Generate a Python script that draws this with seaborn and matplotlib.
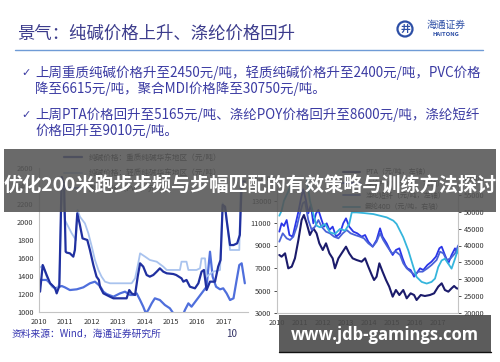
import matplotlib
matplotlib.use('Agg')
import matplotlib.pyplot as plt
import seaborn as sns
import pandas as pd
from matplotlib.patches import Rectangle, Ellipse
from matplotlib.lines import Line2D

W, H = 500, 362

title = '景气：纯碱价格上升、涤纶价格回升'
bullets = [
    '上周重质纯碱价格升至2450元/吨，轻质纯碱价格升至2400元/吨，PVC价格',
    '降至6615元/吨，聚合MDI价格降至30750元/吨。',
    '上周PTA价格回升至5165元/吨、涤纶POY价格回升至8600元/吨，涤纶短纤',
    '价格回升至9010元/吨。',
]
banner = '优化200米跑步步频与步幅匹配的有效策略与训练方法探讨'
source = '资料来源：Wind，海通证券研究所'
page_no = '10'
watermark = 'www.jdb-gamings.com'

years = [2010, 2011, 2012, 2013, 2014, 2015, 2016, 2017]
left_ticks = [1000, 1200, 1400, 1600, 1800, 2000, 2200, 2400, 2600]
fiber_ticks = [3000, 5000, 7000, 9000, 11000, 13000, 15000]
spandex_ticks = [20000, 25000, 30000, 35000, 40000, 45000, 50000, 55000, 60000]

left_labels = ['纯碱价格：重质纯碱华东地区（元/吨）', '纯碱价格：轻质纯碱华东地区（元/吨）', '聚氯乙烯（PVC，元/吨）']
right_labels = ['PTA（元/吨，左轴）', '涤纶POY（元/吨，左轴）', '涤纶短纤（元/吨，左轴）', '氨纶40D（元/吨，右轴）']

# (year, price)
soda_heavy = [(2010.04, 1226), (2010.14, 1522), (2010.29, 1411), (2010.42, 1319), (2010.61, 1263),
              (2010.67, 1207), (2010.77, 1289), (2010.86, 2500), (2010.95, 2420), (2011.01, 1670),
              (2011.05, 1660), (2011.17, 1652), (2011.30, 1615), (2011.36, 1689), (2011.45, 2096),
              (2011.55, 1967), (2011.65, 1818), (2011.83, 1800), (2011.93, 1689), (2012.06, 1522),
              (2012.18, 1393), (2012.27, 1356), (2012.31, 1281), (2012.44, 1207), (2012.56, 1189),
              (2012.69, 1170), (2012.82, 1152), (2013.07, 1152), (2013.32, 1152), (2013.42, 1244),
              (2013.51, 1207), (2013.64, 1189), (2013.74, 1393), (2013.83, 1541), (2013.95, 1504),
              (2014.08, 1411), (2014.20, 1393), (2014.33, 1411), (2014.46, 1448), (2014.58, 1485),
              (2014.71, 1448), (2014.84, 1430), (2015.09, 1422), (2015.20, 1411), (2015.40, 1374),
              (2015.47, 1337), (2015.59, 1356), (2015.72, 1281), (2015.91, 1263), (2016.04, 1319),
              (2016.16, 1448), (2016.25, 1467), (2016.35, 1244), (2016.48, 1337), (2016.67, 1337),
              (2016.79, 1504), (2016.88, 1578), (2016.96, 2189), (2017.05, 2170), (2017.11, 2022),
              (2017.24, 1744), (2017.37, 1744), (2017.51, 1763), (2017.61, 1856), (2017.68, 2450),
              (2017.80, 2450)]
soda_light = [(2010.04, 1496), (2010.16, 1515), (2010.29, 1393), (2010.48, 1281), (2010.67, 1244),
              (2010.77, 1319), (2010.87, 2450), (2010.98, 2022), (2011.11, 1948), (2011.24, 1874),
              (2011.40, 1800), (2011.46, 2133), (2011.55, 2059), (2011.74, 1985), (2011.87, 1874),
              (2012.00, 1726), (2012.12, 1578), (2012.25, 1467), (2012.37, 1393), (2012.50, 1337),
              (2012.69, 1319), (2013.51, 1319), (2013.64, 1374), (2013.76, 1541), (2013.83, 1652),
              (2014.02, 1615), (2014.20, 1578), (2014.46, 1559), (2014.71, 1504), (2014.84, 1467),
              (2015.34, 1467), (2015.40, 1559), (2015.59, 1559), (2015.66, 1467), (2015.97, 1467),
              (2016.10, 1485), (2016.16, 1596), (2016.29, 1596), (2016.35, 1393), (2016.60, 1448),
              (2016.86, 1467), (2016.96, 2207), (2017.08, 2115), (2017.24, 1689), (2017.59, 1689),
              (2017.64, 2400), (2017.80, 2400)]
pvc = [(2010.04, 1356), (2010.29, 1356), (2010.42, 1319), (2010.61, 1263), (2010.73, 1274),
       (2010.86, 1289), (2010.98, 1274), (2011.17, 1244), (2011.43, 1252), (2011.68, 1274),
       (2011.93, 1319), (2012.12, 1337), (2012.31, 1289), (2012.44, 1226), (2012.56, 1200),
       (2012.82, 1170), (2013.07, 1207), (2013.26, 1226), (2013.45, 1189), (2013.57, 1189),
       (2013.70, 1207), (2013.83, 1133), (2013.95, 1059), (2014.05, 985), (2014.14, 1022),
       (2014.27, 1096), (2014.39, 1152), (2014.58, 1133), (2014.77, 1078), (2014.96, 1041),
       (2015.09, 985), (2015.21, 930), (2015.40, 930), (2015.53, 1022), (2015.66, 1096),
       (2015.78, 1059), (2015.97, 1133), (2016.16, 1207), (2016.35, 1281), (2016.48, 1670),
       (2016.58, 1393), (2016.71, 1281), (2016.86, 1252), (2016.98, 1263), (2017.11, 1207),
       (2017.24, 1133), (2017.37, 1152), (2017.49, 1356), (2017.59, 1522), (2017.68, 1541),
       (2017.80, 1319)]

pta = [(2010.10, 8156), (2010.20, 8007), (2010.35, 8304), (2010.49, 6970), (2010.64, 7119),
       (2010.78, 7859), (2010.93, 9489), (2011.07, 11267), (2011.17, 11711), (2011.29, 10970),
       (2011.43, 9933), (2011.58, 10526), (2011.72, 10082), (2011.84, 9193), (2011.99, 8600),
       (2012.13, 9193), (2012.28, 8304), (2012.42, 7859), (2012.52, 6970), (2012.67, 7859),
       (2012.81, 8304), (2013.00, 8896), (2013.14, 8304), (2013.29, 7859), (2013.46, 7711),
       (2013.68, 7563), (2013.83, 7859), (2013.97, 7119), (2014.12, 6378), (2014.22, 5933),
       (2014.33, 6230), (2014.45, 7415), (2014.59, 6674), (2014.74, 5933), (2014.88, 5341),
       (2015.03, 4452), (2015.17, 5044), (2015.32, 4600), (2015.49, 5044), (2015.64, 4304),
       (2015.81, 4748), (2015.96, 4600), (2016.07, 4156), (2016.25, 4600), (2016.43, 4511),
       (2016.65, 4600), (2016.83, 4748), (2017.01, 5341), (2017.16, 5637), (2017.30, 5044),
       (2017.45, 4896), (2017.59, 5193), (2017.70, 5400), (2017.81, 5193), (2017.88, 5165)]
poy = [(2010.10, 10230), (2010.20, 10970), (2010.30, 10733), (2010.42, 11267), (2010.54, 9933),
       (2010.68, 9785), (2010.78, 10674), (2010.93, 12007), (2011.03, 13044), (2011.14, 14000),
       (2011.26, 13000), (2011.36, 11859), (2011.47, 12600), (2011.58, 10970), (2011.70, 11859),
       (2011.80, 12156), (2011.94, 11267), (2012.04, 10674), (2012.16, 10970), (2012.28, 10378),
       (2012.42, 10674), (2012.57, 9785), (2012.74, 10082), (2012.88, 10970), (2013.00, 11415),
       (2013.14, 10674), (2013.32, 10230), (2013.49, 10082), (2013.68, 9785), (2013.83, 9933),
       (2013.97, 9341), (2014.16, 8896), (2014.33, 9489), (2014.48, 10526), (2014.59, 9785),
       (2014.77, 9193), (2014.91, 8600), (2015.03, 8156), (2015.17, 8600), (2015.32, 8748),
       (2015.46, 7859), (2015.57, 7267), (2015.67, 6970), (2015.81, 6822), (2015.96, 6230),
       (2016.07, 6526), (2016.22, 6970), (2016.36, 6822), (2016.54, 7267), (2016.72, 7563),
       (2016.91, 8007), (2017.06, 8748), (2017.16, 8896), (2017.30, 8156), (2017.45, 7415),
       (2017.59, 8156), (2017.74, 8748), (2017.81, 8304), (2017.88, 8600)]
psf = [(2010.10, 9341), (2010.25, 10082), (2010.42, 9637), (2010.57, 9489), (2010.71, 9785),
       (2010.86, 10674), (2011.00, 11859), (2011.12, 12748), (2011.22, 12900), (2011.36, 11267),
       (2011.51, 10378), (2011.65, 10674), (2011.80, 11267), (2011.94, 10674), (2012.13, 10230),
       (2012.30, 10082), (2012.48, 9785), (2012.67, 9637), (2012.86, 10082), (2013.03, 10378),
       (2013.20, 10082), (2013.39, 9933), (2013.61, 9785), (2013.78, 9637), (2013.97, 9193),
       (2014.16, 8896), (2014.33, 9341), (2014.48, 10082), (2014.62, 9489), (2014.80, 8896),
       (2014.99, 8304), (2015.17, 8452), (2015.35, 8156), (2015.49, 7415), (2015.64, 6970),
       (2015.81, 6674), (2016.00, 6378), (2016.14, 6674), (2016.33, 6674), (2016.54, 6970),
       (2016.72, 7267), (2016.94, 7711), (2017.09, 8452), (2017.23, 8304), (2017.38, 7711),
       (2017.55, 7859), (2017.74, 8304), (2017.88, 9010)]
spandex = [(2010.10, 48824), (2010.20, 50294), (2010.30, 53235), (2010.49, 56000), (2010.71, 60000),
           (2011.00, 62000), (2011.29, 60000), (2011.43, 53235), (2011.58, 49314), (2011.72, 45882),
           (2011.87, 45392), (2012.09, 46373), (2012.30, 43922), (2012.52, 43431), (2012.74, 44902),
           (2012.96, 44412), (2013.14, 46373), (2013.25, 49804), (2013.46, 49800), (2013.80, 49600),
           (2014.19, 49314), (2014.77, 48333), (2015.06, 47353), (2015.20, 46373), (2015.49, 42450),
           (2015.71, 38530), (2015.93, 33620), (2016.07, 30680), (2016.29, 29210), (2016.51, 28730),
           (2016.72, 29210), (2016.87, 30200), (2017.01, 33620), (2017.16, 35580), (2017.30, 36070),
           (2017.45, 34600), (2017.59, 33140), (2017.74, 36070), (2017.88, 39020)]


def fx(x):
    return x / W


def fy(y):
    return 1 - y / H


def draw_series(ax, pairs, color, lw, label):
    df = pd.DataFrame(pairs, columns=['year', 'price'])
    sns.lineplot(data=df, x='year', y='price', ax=ax, color=color, linewidth=lw, label=label)


def style_axis(ax):
    for side in ['top', 'right']:
        ax.spines[side].set_visible(False)
    for side in ['left', 'bottom']:
        ax.spines[side].set_color('#c4c4c4')
        ax.spines[side].set_linewidth(0.8)
    ax.tick_params(labelsize=5.3, colors='#333333', length=2, width=0.6, pad=2)
    ax.set_xlabel('')
    ax.set_ylabel('')
    ax.set_xticks(years)
    ax.set_xticklabels([str(y) for y in years])


def main():
    sns.set_theme(style='white')
    plt.rcParams['font.family'] = ['Noto Sans CJK SC', 'DejaVu Sans']

    fig = plt.figure(figsize=(5, 3.62), dpi=100)
    fig.patch.set_facecolor('white')

    # header
    fig.text(fx(17), fy(34), title, fontsize=12.5, color='#3c3c8c', va='center', ha='left')
    fig.add_artist(Line2D([fx(15), fx(483)], [fy(50), fy(50)], color='#6f9bd6', lw=1.0))
    fig.add_artist(Ellipse((fx(405), fy(29)), 15 / W, 15 / H, fill=False, ec='#2d4fa6', lw=1.6))
    fig.text(fx(405), fy(29), '井', fontsize=7, color='#2d4fa6', ha='center', va='center', weight='bold')
    fig.text(fx(446), fy(25), '海通证券', fontsize=7, color='#2d4fa6', ha='center', va='center')
    fig.text(fx(446), fy(34), 'HAITONG', fontsize=4.2, color='#2d4fa6', ha='center', va='center', weight='bold')

    # bullets
    rows = [73, 89, 115, 131]
    for i, (txt, y) in enumerate(zip(bullets, rows)):
        if i % 2 == 0:
            fig.text(fx(21), fy(y), '✓', fontsize=8, color='#3b3ba3', va='center', family=['DejaVu Sans'])
        fig.text(fx(35), fy(y), txt, fontsize=9.7, color='#3b3ba3', va='center')

    # left chart: soda ash / PVC
    ax1 = fig.add_axes([fx(39), fy(312), (248 - 39) / W, (312 - 168) / H])
    draw_series(ax1, pvc, '#4f6fdc', 1.6, left_labels[2])
    draw_series(ax1, soda_light, '#a9c3ee', 1.3, left_labels[1])
    draw_series(ax1, soda_heavy, '#2030a0', 1.6, left_labels[0])
    ax1.set_xlim(2010, 2017.92)
    ax1.set_ylim(1000, 2600)
    ax1.set_yticks(left_ticks)
    style_axis(ax1)
    h, l = ax1.get_legend_handles_labels()
    ax1.legend(h[::-1], l[::-1], loc='upper left', bbox_to_anchor=(fx(64), fy(154)),
               bbox_transform=fig.transFigure, fontsize=5.5, frameon=False, handlelength=2.4,
               labelspacing=0.95, borderpad=0, borderaxespad=0)

    # right chart: polyester chain
    ax2 = fig.add_axes([fx(277), fy(313), (458 - 277) / W, (313 - 178) / H])
    draw_series(ax2, pta, '#1b1b6b', 1.5, right_labels[0])
    draw_series(ax2, poy, '#2a35e8', 1.3, right_labels[1])
    draw_series(ax2, psf, '#4a62d8', 1.3, right_labels[2])
    ax2.set_xlim(2010, 2017.87)
    ax2.set_ylim(3000, 15000)
    ax2.set_yticks(fiber_ticks)
    style_axis(ax2)
    ax3 = ax2.twinx()
    draw_series(ax3, spandex, '#35b5dc', 1.3, right_labels[3])
    ax3.set_ylim(20000, 60000)
    ax3.set_yticks(spandex_ticks)
    ax3.set_ylabel('')
    for side in ['top', 'left', 'bottom']:
        ax3.spines[side].set_visible(False)
    ax3.spines['right'].set_color('#c4c4c4')
    ax3.spines['right'].set_linewidth(0.8)
    ax3.tick_params(labelsize=5.3, colors='#333333', length=2, width=0.6, pad=2)
    ax3.get_legend().remove()
    h2, l2 = ax2.get_legend_handles_labels()
    h3, l3 = ax3.get_legend_handles_labels()
    ax2.legend(h2 + h3, l2 + l3, loc='upper left', bbox_to_anchor=(fx(343), fy(168)),
               bbox_transform=fig.transFigure, fontsize=5, frameon=False, handlelength=2.4,
               labelspacing=0.55, borderpad=0, borderaxespad=0)

    # footer
    fig.text(fx(12), fy(334), source, fontsize=7, color='#3535b0', va='center')
    fig.text(fx(232), fy(334), page_no, fontsize=7, color='#333366', va='center', ha='center')

    # overlay banner
    fig.add_artist(Rectangle((fx(4), fy(212)), 492 / W, (212 - 149) / H, transform=fig.transFigure,
                             facecolor='#555555', edgecolor='none', alpha=0.88, zorder=10))
    fig.text(fx(250), fy(185), banner, fontsize=13.8, color='white', weight='bold',
             ha='center', va='center', zorder=11)

    # watermark box
    fig.add_artist(Rectangle((fx(279), fy(352)), (491 - 279) / W, (352 - 315) / H, transform=fig.transFigure,
                             facecolor='#4a4a4a', edgecolor='none', alpha=0.9, zorder=10))
    fig.add_artist(Line2D([fx(279), fx(491)], [fy(352), fy(352)], color='#111111', lw=1.0, zorder=11))
    fig.text(fx(385), fy(335), watermark, fontsize=12, color='white', weight='bold',
             ha='center', va='center', zorder=11, family=['Open Sans', 'DejaVu Sans'])

    fig.savefig('out.png', dpi=100, facecolor='white')


if __name__ == "__main__":
    main()
